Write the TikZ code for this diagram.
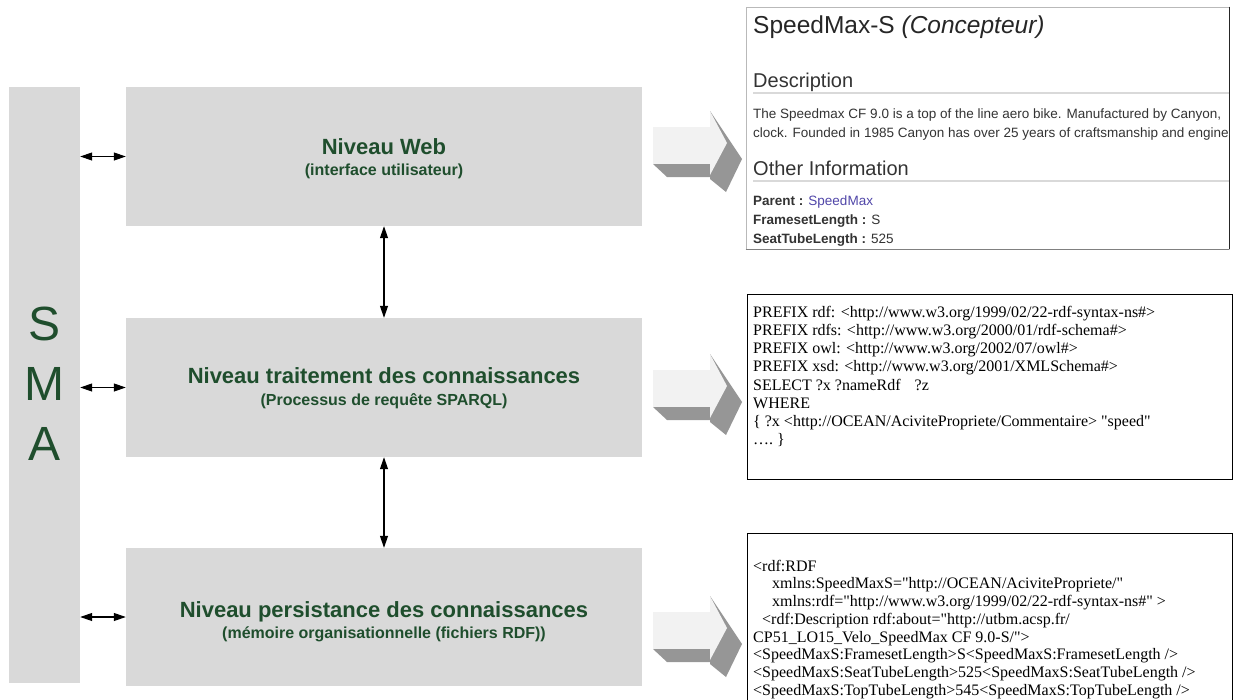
\documentclass[tikz,border=0pt]{standalone}
\usepackage{fontspec}
\setmainfont{Liberation Sans}
\newfontfamily\sansf{Liberation Sans}
\newfontfamily\serf[Ligatures=TeXOff]{Liberation Serif}
\usetikzlibrary{arrows.meta}
\definecolor{boxgray}{HTML}{D9D9D9}
\definecolor{dgreen}{HTML}{1F4E2D}
\definecolor{alight}{HTML}{F2F2F2}
\definecolor{adark}{HTML}{969696}
\definecolor{linkblue}{HTML}{5046A8}
\definecolor{ptxt}{HTML}{333333}
\begin{document}
\begin{tikzpicture}[x=1pt,y=-1pt,
  layerbox/.style={fill=boxgray, draw=none, inner sep=0pt, minimum width=516pt},
  maintxt/.style={text=dgreen, font=\sansf\bfseries\fontsize{22}{26}\selectfont, anchor=base, inner sep=0pt},
  subtxt/.style={text=dgreen, font=\sansf\bfseries\fontsize{16}{19}\selectfont, anchor=base, inner sep=0pt},
  smaletter/.style={text=dgreen, font=\sansf\fontsize{48}{56}\selectfont, anchor=base, inner sep=0pt},
  link/.style={{Triangle[length=12pt,width=8pt]}-{Triangle[length=12pt,width=8pt]}, line width=1.1pt, black},
  ptext/.style={anchor=base west, inner sep=0pt, text=ptxt},
  code/.style={anchor=north west, inner sep=0pt, align=left, text=black, font=\serf\fontsize{16}{18.2}\selectfont},
  fatarrow/.pic={
    \fill[adark] (0,37) -- (57,37) -- (57,50) -- (14,50) -- cycle;
    \fill[adark] (57,-16) -- (89,32) -- (73,65) -- (57,52) -- cycle;
    \fill[alight] (0,0) rectangle (57,37);
    \fill[alight] (57,-16) -- (74,16) -- (57,48) -- cycle;
  }
]
\useasboundingbox (0,0) rectangle (1233,699);

% SMA bar and layer boxes
\node[fill=boxgray, draw=none, inner sep=0pt, minimum width=71pt, minimum height=596pt] (sma) at (44.5,385) {};
\node[smaletter] (smaS) at (44.5,340) {S};
\node[smaletter] (smaM) at (44.5,400) {M};
\node[smaletter] (smaA) at (44.5,460) {A};

\node[layerbox, minimum height=139pt] (web) at (384,156.5) {};
\node[layerbox, minimum height=139pt] (trait) at (384,387.5) {};
\node[layerbox, minimum height=138pt] (pers) at (384,617) {};

\node[maintxt] (webT) at (384,154) {Niveau Web};
\node[subtxt] (webS) at (384,175) {(interface utilisateur)};
\node[maintxt] (traitT) at (384,383) {Niveau traitement des connaissances};
\node[subtxt] (traitS) at (384,405) {(Processus de requête SPARQL)};
\node[maintxt] (persT) at (384,617) {Niveau persistance des connaissances};
\node[subtxt] (persS) at (384,638) {(mémoire organisationnelle (fichiers RDF))};

% connectors
\draw[link] (sma.east |- web.west) -- (web.west);
\draw[link] (sma.east |- trait.west) -- (trait.west);
\draw[link] (sma.east |- pers.west) -- (pers.west);
\draw[link] (web.south) -- (trait.north);
\draw[link] (trait.south) -- (pers.north);

% 3D arrows
\pic at (653,127) {fatarrow};
\pic at (653,370) {fatarrow};
\pic at (653,612) {fatarrow};

% panel 1 (web page)
\node[draw=gray!55, line width=0.8pt, inner sep=0pt, minimum width=483pt, minimum height=242pt] (p1) at (987.5,128) {};
\draw[black!85, line width=1pt] (p1.north east) -- (p1.south east);
\draw[gray, line width=0.8pt] (p1.south west) -- (p1.south east);
\begin{scope}
\clip (p1.south west) rectangle (p1.north east);
\node[ptext, text=black!85, font=\sansf\fontsize{24.5}{28}\selectfont] (ttl) at (753,33) {SpeedMax-S \textit{(Concepteur)}};
\node[ptext, text=black!80, font=\sansf\fontsize{20}{24}\selectfont] (desc) at (753,87) {Description};
\draw[black!15, line width=2pt] (753,93) -- (1229,93);
\node[ptext, font=\sansf\fontsize{13.5}{16}\selectfont] (body1) at (753,118) {The Speedmax CF 9.0 is a top of the line aero bike. Manufactured by Canyon,};
\node[ptext, font=\sansf\fontsize{13.5}{16}\selectfont] (body2) at (753,137) {clock. Founded in 1985 Canyon has over 25 years of craftsmanship and engineering};
\node[ptext, text=black!80, font=\sansf\fontsize{20}{24}\selectfont] (other) at (753,175) {Other Information};
\draw[black!15, line width=2pt] (753,181) -- (1229,181);
\node[ptext, font=\sansf\fontsize{13.5}{16}\selectfont] (par) at (753,205) {\textbf{Parent :} \textcolor{linkblue}{SpeedMax}};
\node[ptext, font=\sansf\fontsize{13.5}{16}\selectfont] (fsl) at (753,224) {\textbf{FramesetLength :} S};
\node[ptext, font=\sansf\fontsize{13.5}{16}\selectfont] (stl) at (753,243) {\textbf{SeatTubeLength :} 525};
\end{scope}

% panel 2 (SPARQL)
\node[draw=black, line width=0.9pt, inner sep=0pt, minimum width=485pt, minimum height=185pt] (p2) at (989.5,386.5) {};
\node[code] (p2t) at (753,304) {\rule{0pt}{13pt}PREFIX rdf: <http://www.w3.org/1999/02/22-rdf-syntax-ns\#>\\
PREFIX rdfs: <http://www.w3.org/2000/01/rdf-schema\#>\\
PREFIX owl: <http://www.w3.org/2002/07/owl\#>\\
PREFIX xsd: <http://www.w3.org/2001/XMLSchema\#>\\
SELECT ?x ?nameRdf\hspace{14pt}?z\\
WHERE\\
\{ ?x <http://OCEAN/AcivitePropriete/Commentaire> "speed"\\
….\ \}};

% panel 3 (RDF)
\node[draw=black, line width=0.9pt, inner sep=0pt, minimum width=485pt, minimum height=190pt] (p3) at (989.5,628) {};
\node[code, font=\serf\fontsize{16}{17.75}\selectfont] (p3t) at (753,558) {\rule{0pt}{13pt}<rdf:RDF\\
\hspace*{19pt}xmlns:SpeedMaxS="http://OCEAN/AcivitePropriete/"\\
\hspace*{19pt}xmlns:rdf="http://www.w3.org/1999/02/22-rdf-syntax-ns\#" >\\
\hspace*{9pt}<rdf:Description rdf:about="http://utbm.acsp.fr/\\
CP51\_LO15\_Velo\_SpeedMax CF 9.0-S/">\\
<SpeedMaxS:FramesetLength>S<SpeedMaxS:FramesetLength />\\
<SpeedMaxS:SeatTubeLength>525<SpeedMaxS:SeatTubeLength />\\
<SpeedMaxS:TopTubeLength>545<SpeedMaxS:TopTubeLength />};
\end{tikzpicture}
\end{document}
